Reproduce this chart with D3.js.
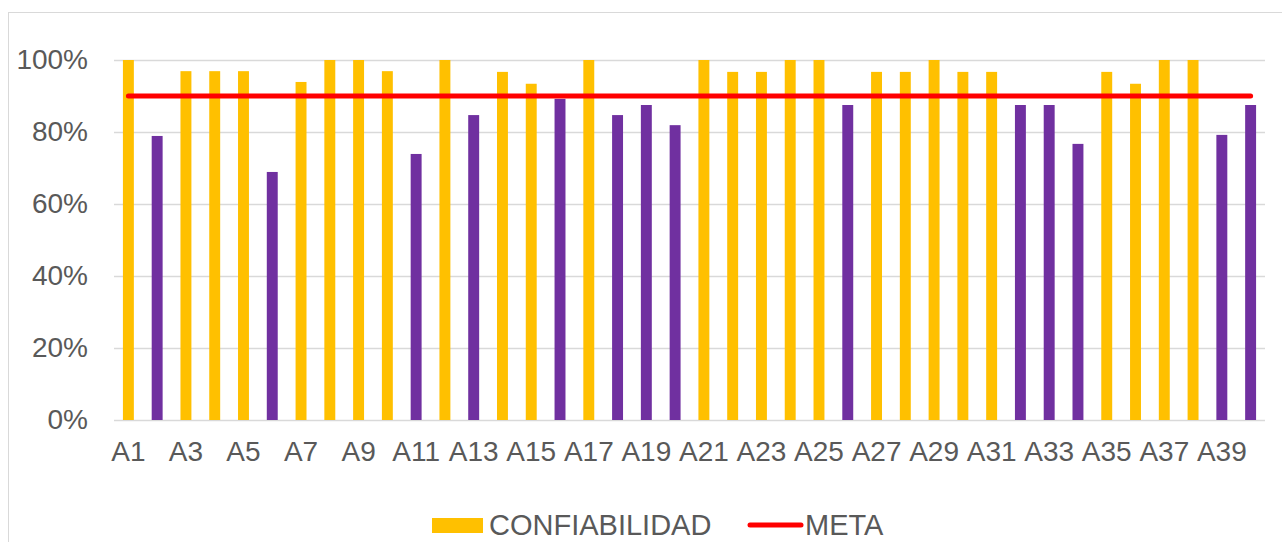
<!DOCTYPE html>
<html>
<head>
<meta charset="utf-8">
<script src="https://cdn.jsdelivr.net/npm/d3@7"></script>
<style>
  body { margin: 0; background: #fff; }
  text { font-family: "Liberation Sans", Arial, sans-serif; fill: #595959; }
</style>
</head>
<body>
<svg id="chart" width="1282" height="542"></svg>
<script>
// data
var categorias = d3.range(1, 41).map(function (i) { return "A" + i; });
var confiabilidad = [
    1.000, 0.789, 0.969, 0.969, 0.969, 0.689, 0.939, 1.000, 1.000, 0.969,
    0.739, 1.000, 0.847, 0.967, 0.934, 0.892, 1.000, 0.847, 0.875, 0.819,
    1.000, 0.967, 0.967, 1.000, 1.000, 0.875, 0.967, 0.967, 1.000, 0.967,
    0.967, 0.875, 0.875, 0.767, 0.967, 0.934, 1.000, 1.000, 0.792, 0.875
];
var meta = categorias.map(function () { return 0.9; });
var yTicks = [0, 0.2, 0.4, 0.6, 0.8, 1];
var leyenda = [{ lbl: "CONFIABILIDAD", tipo: "bar" }, { lbl: "META", tipo: "line" }];

var colorOk = "#FFC000", colorBajo = "#7030A0", colorMeta = "#FF0000", colorGrid = "#D9D9D9";

var svg = d3.select("#chart");
var plot = { left: 114, right: 1265, top: 60, bottom: 420 };

// cadre du graphique (coupé par la capture)
svg.append("rect")
    .attr("x", 8.5).attr("y", 12.5)
    .attr("width", 1400).attr("height", 600)
    .attr("fill", "none")
    .attr("stroke", colorGrid);

var x = d3.scaleBand()
    .domain(categorias)
    .range([plot.left, plot.right])
    .paddingInner(0.62)
    .paddingOuter(0.31);

var y = d3.scaleLinear()
    .domain([0, 1])
    .range([plot.bottom, plot.top]);

// grille horizontale
svg.append("g").selectAll("line")
    .data(yTicks)
    .enter().append("line")
    .attr("x1", plot.left).attr("x2", plot.right)
    .attr("y1", function (d) { return Math.round(y(d)) + 0.5; })
    .attr("y2", function (d) { return Math.round(y(d)) + 0.5; })
    .attr("stroke", colorGrid)
    .attr("stroke-width", 1.3);

// axe y
var gy = svg.append("g")
    .attr("transform", "translate(" + plot.left + ",0)")
    .call(d3.axisLeft(y).tickValues(yTicks).tickSize(0).tickPadding(26).tickFormat(d3.format(".0%")));
gy.select(".domain").remove();
gy.selectAll("text").style("font-size", "28px").attr("fill", "#595959");

// barres
svg.append("g").selectAll("rect")
    .data(confiabilidad)
    .enter().append("rect")
    .attr("x", function (d, i) { return x(categorias[i]); })
    .attr("width", x.bandwidth())
    .attr("y", function (d) { return y(d); })
    .attr("height", function (d) { return y(0) - y(d); })
    .attr("fill", function (d, i) { return d >= meta[i] ? colorOk : colorBajo; });

// axe x, une étiquette sur deux
var gx = svg.append("g")
    .attr("transform", "translate(0," + plot.bottom + ")")
    .call(d3.axisBottom(x)
        .tickValues(categorias.filter(function (d, i) { return i % 2 == 0; }))
        .tickSize(0).tickPadding(21));
gx.select(".domain").remove();
gx.selectAll("text").style("font-size", "28px").attr("fill", "#595959");

// ligne de la meta
var ligne = d3.line()
    .x(function (d, i) { return x(categorias[i]) + x.bandwidth() / 2; })
    .y(function (d) { return y(d); });
svg.append("path")
    .datum(meta)
    .attr("d", ligne)
    .attr("fill", "none")
    .attr("stroke", colorMeta)
    .attr("stroke-width", 5)
    .attr("stroke-linecap", "round");

// légende
var posLeg = [432, 748];
var gl = svg.append("g").attr("transform", "translate(0,525)");
leyenda.forEach(function (d, i) {
    var x0 = posLeg[i];
    if (d.tipo == "bar") {
        gl.append("rect")
            .attr("x", x0).attr("y", -7)
            .attr("width", 51).attr("height", 15)
            .attr("fill", colorOk);
    } else {
        gl.append("line")
            .attr("x1", x0 + 2).attr("x2", x0 + 53)
            .attr("y1", 0).attr("y2", 0)
            .attr("stroke", colorMeta)
            .attr("stroke-width", 5)
            .attr("stroke-linecap", "round");
    }
    gl.append("text")
        .attr("x", x0 + 57)
        .attr("y", 10)
        .style("font-size", "29px")
        .text(d.lbl);
});
</script>
</body>
</html>
